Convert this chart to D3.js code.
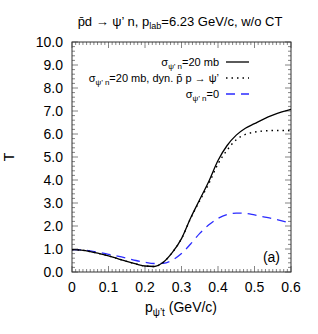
<!DOCTYPE html>
<html>
<head>
<meta charset="utf-8" />
<title>T vs p</title>
<style>
  body { margin: 0; background: #fff; }
  text { font-family: "Liberation Sans", Arial, sans-serif; fill: #000; }
</style>
</head>
<body>
<svg width="318" height="334"></svg>
<script src="https://cdn.jsdelivr.net/npm/d3@7/dist/d3.min.js"></script>
<script>
    // values
    var pt = [0, 0.025, 0.05, 0.075, 0.1, 0.125, 0.15, 0.175, 0.2, 0.225, 0.25, 0.275, 0.3,
              0.325, 0.35, 0.375, 0.4, 0.425, 0.45, 0.475, 0.5, 0.525, 0.55, 0.575, 0.6];
    var tFull = [0.97, 0.95, 0.89, 0.80, 0.70, 0.58, 0.46, 0.35, 0.26, 0.24, 0.42, 0.85, 1.45,
                 2.35, 3.15, 3.95, 4.85, 5.5, 5.95, 6.25, 6.45, 6.65, 6.82, 6.96, 7.07];
    var tDyn = [0.97, 0.95, 0.89, 0.80, 0.70, 0.58, 0.46, 0.35, 0.26, 0.24, 0.42, 0.85, 1.45,
                2.33, 3.1, 3.85, 4.7, 5.3, 5.75, 5.98, 6.08, 6.13, 6.15, 6.15, 6.14];
    var tZero = [0.97, 0.96, 0.92, 0.85, 0.77, 0.69, 0.60, 0.50, 0.42, 0.37, 0.38, 0.52, 0.8,
                 1.22, 1.68, 2.05, 2.33, 2.5, 2.56, 2.55, 2.48, 2.4, 2.32, 2.22, 2.12];
    var xTicks = [0, 0.1, 0.2, 0.3, 0.4, 0.5, 0.6];
    var yTicks = [0, 1, 2, 3, 4, 5, 6, 7, 8, 9, 10];

    var pLeft = 72, pRight = 291, pTop = 42, pBottom = 272;
    var svg = d3.select('svg');
    var x = d3.scaleLinear().domain([0, 0.6]).range([pLeft, pRight]);
    var y = d3.scaleLinear().domain([0, 10]).range([pBottom, pTop]);

    // minor + major ticks, inward, on all four sides
    var g = svg.append('g').attr('stroke', '#666').attr('stroke-width', 0.8);
    d3.range(0, 0.6001, 0.01).forEach(function (v, i) {
        var len = (i % 10 === 0) ? 6 : 3;
        g.append('line').attr('x1', x(v)).attr('x2', x(v)).attr('y1', pBottom).attr('y2', pBottom - len);
        g.append('line').attr('x1', x(v)).attr('x2', x(v)).attr('y1', pTop).attr('y2', pTop + len);
    });
    d3.range(0, 10.001, 0.2).forEach(function (v, i) {
        var len = (i % 5 === 0) ? 6 : 3;
        g.append('line').attr('y1', y(v)).attr('y2', y(v)).attr('x1', pLeft).attr('x2', pLeft + len);
        g.append('line').attr('y1', y(v)).attr('y2', y(v)).attr('x1', pRight).attr('x2', pRight - len);
    });

    svg.append('rect').attr('x', pLeft).attr('y', pTop)
        .attr('width', pRight - pLeft).attr('height', pBottom - pTop)
        .attr('fill', 'none').attr('stroke', '#333').attr('stroke-width', 1);

    svg.selectAll('.xl').data(xTicks).enter().append('text')
        .attr('x', function (d) { return x(d); }).attr('y', pBottom + 20)
        .attr('text-anchor', 'middle').attr('font-size', 14)
        .text(function (d) { return d === 0 ? '0' : d.toFixed(1); });
    svg.selectAll('.yl').data(yTicks).enter().append('text')
        .attr('x', pLeft - 9).attr('y', function (d) { return y(d) + 5; })
        .attr('text-anchor', 'end').attr('font-size', 14)
        .text(function (d) { return d.toFixed(1); });

    var line = d3.line()
        .x(function (d, i) { return x(pt[i]); })
        .y(function (d) { return y(d); })
        .curve(d3.curveMonotoneX);

    svg.append('clipPath').attr('id', 'c').append('rect')
        .attr('x', pLeft).attr('y', pTop).attr('width', pRight - pLeft).attr('height', pBottom - pTop);
    var plot = svg.append('g').attr('clip-path', 'url(#c)');
    plot.append('path').attr('d', line(tZero)).attr('fill', 'none')
        .attr('stroke', '#2b2bff').attr('stroke-width', 1.3).attr('stroke-dasharray', '9,6');
    plot.append('path').attr('d', line(tDyn)).attr('fill', 'none')
        .attr('stroke', '#000').attr('stroke-width', 1.4).attr('stroke-dasharray', '1.5,4');
    plot.append('path').attr('d', line(tFull)).attr('fill', 'none')
        .attr('stroke', '#000').attr('stroke-width', 1.3);

    // title
    var title = svg.append('text').attr('x', 180).attr('y', 26)
        .attr('text-anchor', 'middle').attr('font-size', 13);
    title.append('tspan').text('p\u0304d \u2192 \u03c8\u2019 n, p');
    title.append('tspan').attr('font-size', 9).attr('dy', 3).text('lab');
    title.append('tspan').attr('dy', -3).text('=6.23 GeV/c, w/o CT');

    // legend
    var legend = [
        { pre: '=20 mb', dash: null, color: '#000' },
        { pre: '=20 mb, dyn. p\u0304 p \u2192 \u03c8\u2019', dash: '1.5,4', color: '#000' },
        { pre: '=0', dash: '9,6', color: '#2b2bff' }
    ];
    var ly = [62, 78, 94];
    legend.forEach(function (d, i) {
        var t = svg.append('text').attr('x', 219).attr('y', ly[i] + 4)
            .attr('text-anchor', 'end').attr('font-size', 11);
        t.append('tspan').text('\u03c3');
        t.append('tspan').attr('font-size', 8).attr('dy', 3).text('\u03c8\u2019 n');
        t.append('tspan').attr('dy', -3).text(d.pre);
        svg.append('line').attr('x1', 226).attr('x2', 249).attr('y1', ly[i]).attr('y2', ly[i])
            .attr('stroke', d.color).attr('stroke-width', 1.3)
            .attr('stroke-dasharray', d.dash);
    });

    svg.append('text').attr('x', 280).attr('y', 262).attr('text-anchor', 'end')
        .attr('font-size', 14).text('(a)');

    var xl = svg.append('text').attr('x', 181).attr('y', 312)
        .attr('text-anchor', 'middle').attr('font-size', 14);
    xl.append('tspan').text('p');
    xl.append('tspan').attr('font-size', 10).attr('dy', 4).text('\u03c8\u2019t');
    xl.append('tspan').attr('dy', -4).text(' (GeV/c)');

    svg.append('text').attr('transform', 'translate(14,157) rotate(-90)')
        .attr('text-anchor', 'middle').attr('font-size', 14).text('T');
</script>
</body>
</html>
